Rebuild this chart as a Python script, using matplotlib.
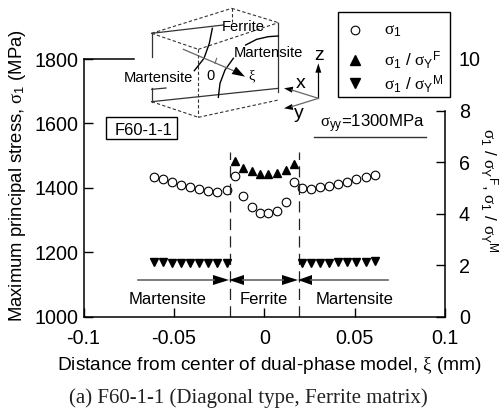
import matplotlib
matplotlib.use('Agg')
import matplotlib.pyplot as plt

plt.rcParams['font.family'] = ['Liberation Sans', 'DejaVu Sans']
plt.rcParams['mathtext.fontset'] = 'custom'
plt.rcParams['mathtext.rm'] = 'Liberation Sans'
plt.rcParams['mathtext.it'] = 'Liberation Serif'
plt.rcParams['mathtext.bf'] = 'Liberation Sans:bold'

# distance from center, mm
xi_mart_l = [-0.0612, -0.0559, -0.0508, -0.0459, -0.0410, -0.0360, -0.0309, -0.0260, -0.0208]
xi_ferrite = [-0.0162, -0.0118, -0.0070, -0.0024, 0.0020, 0.0070, 0.0118, 0.0164]
xi_mart_r = [0.0210, 0.0261, 0.0311, 0.0359, 0.0410, 0.0460, 0.0510, 0.0562, 0.0612]

# sigma_1, MPa
s1_mart_l = [1435, 1427, 1418, 1408, 1402, 1395, 1391, 1388, 1393]
s1_ferrite = [1437, 1375, 1342, 1322, 1321, 1329, 1356, 1418]
s1_mart_r = [1400, 1396, 1402, 1405, 1411, 1418, 1426, 1433, 1441]

# ratios, right axis
ratio_f = [6.04, 5.78, 5.65, 5.55, 5.53, 5.59, 5.69, 5.93]
ratio_m_l = [2.13, 2.11, 2.10, 2.10, 2.10, 2.10, 2.08, 2.08, 2.07]
ratio_m_r = [2.07, 2.08, 2.10, 2.10, 2.11, 2.11, 2.11, 2.12, 2.16]

boundary = 0.019
W, H = 500, 411


def px_axes(fig):
    # overlay in image pixels for the sketch and the hand placed notes
    ov = fig.add_axes([0, 0, 1, 1], zorder=5)
    ov.set_xlim(0, W)
    ov.set_ylim(H, 0)
    ov.axis('off')
    ov.patch.set_alpha(0)
    return ov


def z(x, y):
    # crop coordinates of the sketch to image pixels
    return 80 + x / 3, y / 3


def seg(ov, p, q, **kw):
    a, b = z(*p), z(*q)
    ov.plot([a[0], b[0]], [a[1], b[1]], **kw)


fig = plt.figure(figsize=(5, 4.11), dpi=100)
left, right, top, bottom = 83.5, 445, 59, 316.7
ax = fig.add_axes([left / W, 1 - bottom / H, (right - left) / W, (bottom - top) / H])
ax.set_xlim(-0.1, 0.1)
ax.set_ylim(1000, 1800)
ax.spines['top'].set_visible(False)
ax.spines['right'].set_visible(False)
ax.set_xticks([-0.1, -0.05, 0, 0.05, 0.1])
ax.set_xticklabels(['-0.1', '-0.05', '0', '0.05', '0.1'])
ax.set_yticks([1000, 1200, 1400, 1600, 1800])
ax.tick_params(axis='x', direction='in', length=6.5, width=1, labelsize=14.2, pad=9)
ax.tick_params(axis='y', direction='in', length=6.5, width=1, labelsize=14.2, pad=3.5)
for s in ['left', 'bottom']:
    ax.spines[s].set_linewidth(1.1)

ax2 = ax.twinx()
ax2.set_ylim(0, 10)
ax2.set_yticks([0, 2, 4, 6, 8, 10])
ax2.tick_params(axis='y', direction='in', length=6.5, width=1, labelsize=14.2, pad=10)
ax2.yaxis.get_major_ticks()[-1].tick2line.set_visible(False)
ax2.spines['top'].set_visible(False)
ax2.spines['left'].set_visible(False)
ax2.spines['bottom'].set_visible(False)
ax2.spines['right'].set_bounds(0, 8)
ax2.spines['right'].set_linewidth(1.1)

circ = dict(marker='o', ms=6.2, mfc='white', mec='black', mew=0.8, ls='none')
ax.plot(xi_mart_l, s1_mart_l, **circ)
ax.plot(xi_ferrite, s1_ferrite, **circ)
ax.plot(xi_mart_r, s1_mart_r, **circ)
ax2.plot(xi_ferrite, ratio_f, marker='^', ms=6.4, color='black', ls='none')
ax2.plot(xi_mart_l, ratio_m_l, marker='v', ms=6.4, color='black', ls='none')
ax2.plot(xi_mart_r, ratio_m_r, marker='v', ms=6.4, color='black', ls='none')

for b in [-boundary, boundary]:
    ax.plot([b, b], [1000, 1510], color='#222222', lw=0.9, dashes=(9, 5))

ov = px_axes(fig)

# labels
ov.text(18, 175, r'Maximum principal stress, $\sigma_{1}$ (MPa)', rotation=90, fontsize=13.3, ha='center', va='center')
ov.text(489, 190, r'$\sigma_{1}$ / $\sigma_{\mathrm{Y}}\mathrm{}^{\mathrm{F}}$, $\sigma_{1}$ / $\sigma_{\mathrm{Y}}\mathrm{}^{\mathrm{M}}$',
        rotation=270, fontsize=12.3, ha='center', va='center')
ov.text(57, 365, r'Distance from center of dual-phase model, $\xi$ (mm)', fontsize=13.75, ha='left', va='center')
ov.text(248, 398, '(a) F60-1-1 (Diagonal type, Ferrite matrix)', fontsize=15, ha='center', va='center',
        family='Liberation Serif', color='#222222')

# top piece of the frame
ov.plot([left, 134], [top, top], color='black', lw=1.1)

# legend box
ov.add_patch(plt.Rectangle((337.7, 12.3), 112.6, 84.4, fc='white', ec='black', lw=1))
ov.plot([355], [30], **circ)
ov.plot([355], [60], marker='^', ms=7, color='black', ls='none')
ov.plot([355], [83], marker='v', ms=7, color='black', ls='none')
ov.text(384, 31, r'$\sigma_{1}$', fontsize=12.3, va='center')
ov.text(384, 60, r'$\sigma_{1}$ / $\sigma_{\mathrm{Y}}\mathrm{}^{\mathrm{F}}$', fontsize=12.3, va='center')
ov.text(384, 84, r'$\sigma_{1}$ / $\sigma_{\mathrm{Y}}\mathrm{}^{\mathrm{M}}$', fontsize=12.3, va='center')

# specimen label and applied stress
ov.add_patch(plt.Rectangle((105.7, 117), 71, 22, fc='none', ec='black', lw=1))
ov.text(143, 130, 'F60-1-1', fontsize=11.9, ha='center', va='center')
ov.text(320, 124, r'$\sigma_{\mathrm{yy}}$=1300MPa', fontsize=12.1, va='center')
ov.plot([314, 426], [136.7, 136.7], color='#333333', lw=1)

# phase arrows
gray = '#666666'
ov.plot([138, 214], [280, 280], color=gray, lw=1.2)
ov.plot([243, 283], [280, 280], color=gray, lw=1.2)
ov.plot([311, 388], [280, 280], color=gray, lw=1.2)
for tip, tail in [(229, 213), (229, 244), (298, 282), (298, 312)]:
    ov.fill([tip, tail, tail], [280, 275, 285], color='black', lw=0)
ov.text(168, 299, 'Martensite', fontsize=12, ha='center', va='center')
ov.text(264, 299, 'Ferrite', fontsize=12, ha='center', va='center')
ov.text(355, 299, 'Martensite', fontsize=12, ha='center', va='center')

# dual-phase model sketch
solid = dict(color='#333333', lw=0.9)
dash = dict(color='#333333', lw=0.8, dashes=(3, 2))
seg(ov, (215, 100), (215, 170), **solid)
seg(ov, (215, 265), (215, 305), **solid)
seg(ov, (215, 100), (430, 75), **solid)
seg(ov, (215, 305), (595, 265), **solid)
seg(ov, (595, 68), (595, 275), **solid)
seg(ov, (215, 268), (258, 264), **solid)
seg(ov, (215, 100), (455, 25), **dash)
seg(ov, (455, 25), (595, 68), **dash)
seg(ov, (215, 100), (355, 148), **dash)
seg(ov, (355, 148), (595, 68), **dash)
seg(ov, (355, 148), (355, 352), **dash)
seg(ov, (215, 305), (355, 352), **dash)
seg(ov, (355, 352), (595, 300), **dash)
seg(ov, (455, 25), (455, 65), **dash)

for pts in [[(397, 85), (388, 130), (372, 175), (343, 212)],
            [(415, 292), (420, 250), (435, 210), (460, 175)],
            [(497, 135), (530, 118), (565, 110), (595, 108)]]:
    ov.plot([z(*p)[0] for p in pts], [z(*p)[1] for p in pts], color='black', lw=1)

seg(ov, (310, 148), (460, 212), color=gray, lw=0.9)
seg(ov, (410, 175), (405, 190), color=gray, lw=0.8)
ov.fill(*zip(z(495, 230), z(455, 222), z(468, 200)), color='black', lw=0)
ov.text(*z(392, 228), '0', fontsize=10.5, ha='center', va='center')
ov.text(*z(517, 232), r'$\xi$', fontsize=10.5, ha='center', va='center')
ov.text(*z(235, 235), 'Martensite', fontsize=10.6, ha='center', va='center')
ov.text(*z(565, 160), 'Martensite', fontsize=10.6, ha='center', va='center')
ov.text(*z(490, 82), 'Ferrite', fontsize=10.6, ha='center', va='center')

# coordinate triad
seg(ov, (715, 295), (715, 215), color='black', lw=0.9)
ov.fill(*zip(z(715, 190), z(706, 218), z(724, 218)), color='black', lw=0)
seg(ov, (715, 295), (635, 270), color=gray, lw=0.9)
ov.fill(*zip(z(612, 265), z(640, 260), z(636, 278)), color='black', lw=0)
seg(ov, (715, 295), (635, 320), color=gray, lw=0.9)
ov.fill(*zip(z(612, 325), z(636, 312), z(640, 330)), color='black', lw=0)
ov.text(*z(716, 168), 'z', fontsize=14, ha='center', va='center')
ov.text(*z(662, 250), 'x', fontsize=14, ha='center', va='center')
ov.text(*z(658, 340), 'y', fontsize=14, ha='center', va='center')

ov.set_xlim(0, W)
ov.set_ylim(H, 0)
fig.savefig('out.png', dpi=100)
